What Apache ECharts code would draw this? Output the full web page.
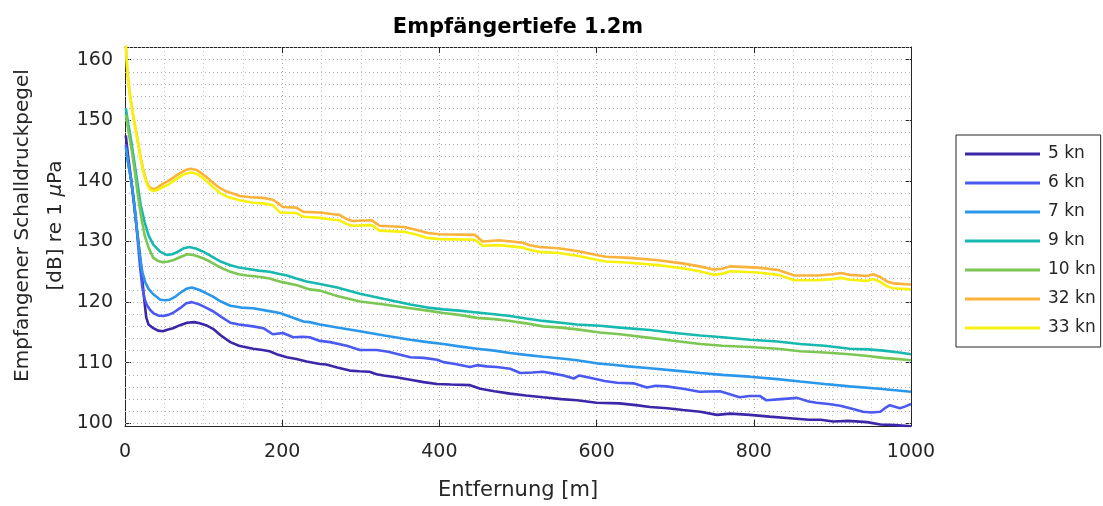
<!DOCTYPE html>
<html><head><meta charset="utf-8">
<script src="https://cdn.jsdelivr.net/npm/echarts@6/dist/echarts.min.js"></script>
<style>html,body{margin:0;padding:0;background:#fff}#c{width:1103px;height:506px}</style>
</head><body><div id="c"></div>
<script>
const titleText = 'Empfängertiefe 1.2m';
const xName = 'Entfernung [m]';
const seriesNames = ['5 kn', '6 kn', '7 kn', '9 kn', '10 kn', '32 kn', '33 kn'];
const seriesColors = ['#3E26A8', '#4A5AF0', '#2A97EA', '#17B8B0', '#7CC653', '#FDB23C', '#F6F20E'];
const yTicks = [100, 110, 120, 130, 140, 150, 160];
const yGrid = [100,102,104,106,108,110,112,114,116,118,120,122,124,126,128,130,132,134,136,138,140,142,144,146,148,150,152,154,156,158,160,162];

const d5 = [[1,147.5],[4,144],[8,140],[12,135.5],[16,131],[20,126.5],[24,121],[27,117.5],[30,116.3],[36,115.7],[42,115.3],[48,115.2],[55,115.5],[61,115.7],[70,116.2],[79,116.6],[88,116.7],[95,116.5],[103,116.2],[112,115.6],[122,114.5],[134,113.4],[145,112.8],[163,112.3],[175,112.1],[184,111.9],[195,111.3],[206,110.9],[218,110.6],[231,110.2],[248,109.8],[256,109.7],[270,109.2],[286,108.7],[298,108.6],[311,108.5],[320,108.1],[329,107.9],[345,107.6],[363,107.2],[380,106.8],[397,106.5],[415,106.4],[439,106.3],[452,105.7],[470,105.3],[490,104.9],[510,104.6],[532,104.3],[555,104.0],[575,103.8],[600,103.4],[629,103.3],[650,103.0],[668,102.7],[690,102.5],[710,102.2],[732,101.9],[753,101.4],[770,101.6],[795,101.4],[820,101.1],[850,100.8],[870,100.6],[885,100.6],[901,100.3],[920,100.4],[944,100.2],[961,99.8],[980,99.7],[1000,99.5]];
const d6 = [[1,146],[4,143],[8,140],[12,136],[16,130.5],[19,126],[22,122.5],[25,120.5],[28,119.5],[32,118.7],[36,118.2],[42,117.8],[48,117.7],[55,117.9],[61,118.2],[70,119],[78,119.8],[85,120.0],[95,119.6],[103,119.1],[112,118.5],[122,117.6],[134,116.6],[145,116.3],[163,116.0],[176,115.7],[188,114.7],[201,114.9],[214,114.2],[226,114.3],[235,114.2],[248,113.6],[261,113.4],[282,112.8],[299,112.1],[320,112.1],[335,111.8],[345,111.5],[363,110.9],[380,110.8],[397,110.5],[405,110.1],[420,109.8],[439,109.3],[448,109.6],[460,109.4],[473,109.3],[490,109.0],[503,108.3],[518,108.4],[532,108.5],[545,108.2],[558,107.9],[571,107.4],[578,107.9],[596,107.4],[610,107.0],[626,106.7],[647,106.6],[664,105.9],[675,106.2],[689,106.1],[710,105.7],[731,105.2],[757,105.3],[782,104.3],[795,104.5],[808,104.5],[816,103.8],[835,104.0],[855,104.2],[870,103.6],[880,103.4],[895,103.2],[910,102.9],[925,102.4],[939,101.9],[950,101.8],[961,101.9],[968,102.6],[973,103.0],[986,102.5],[993,102.8],[1000,103.2]];
const d7 = [[1,145.5],[4,143],[8,140],[12,136],[16,131],[19,127.5],[22,125],[26,123.2],[30,122.2],[36,121.3],[45,120.4],[52,120.3],[57,120.4],[64,120.9],[70,121.5],[78,122.2],[85,122.4],[95,122.0],[103,121.5],[112,120.9],[122,120.1],[134,119.4],[148,119.1],[163,119.0],[180,118.6],[197,118.2],[212,117.5],[227,116.8],[235,116.7],[248,116.3],[270,115.8],[299,115.2],[330,114.5],[363,113.8],[385,113.4],[405,113.1],[425,112.7],[448,112.3],[470,112.0],[490,111.6],[510,111.3],[532,111.0],[555,110.7],[575,110.4],[600,109.9],[617,109.7],[640,109.4],[668,109.1],[700,108.7],[732,108.3],[760,108.0],[795,107.7],[830,107.3],[859,106.9],[890,106.5],[922,106.1],[960,105.7],[1000,105.2]];
const d9 = [[1,152],[4,149.5],[8,146.5],[12,143],[16,139.5],[20,136],[25,133.2],[30,131],[36,129.5],[45,128.3],[53,127.8],[60,127.9],[67,128.3],[75,128.9],[82,129.1],[91,128.8],[100,128.3],[108,127.7],[120,126.8],[134,126.1],[145,125.7],[155,125.5],[170,125.2],[184,125.0],[195,124.7],[206,124.4],[218,123.9],[231,123.4],[248,123.0],[270,122.4],[299,121.4],[330,120.5],[363,119.6],[385,119.1],[405,118.8],[425,118.6],[448,118.3],[470,118.0],[490,117.7],[510,117.3],[532,116.9],[555,116.6],[575,116.3],[604,116.1],[630,115.8],[668,115.4],[700,114.9],[732,114.5],[760,114.2],[795,113.8],[830,113.5],[859,113.1],[890,112.8],[922,112.3],[945,112.2],[965,112.0],[985,111.7],[1000,111.4]];
const d10 = [[1,151],[4,148.5],[8,145.5],[12,142],[16,138],[20,134.5],[25,131],[30,129],[36,127.3],[42,126.8],[48,126.6],[55,126.7],[61,126.9],[70,127.4],[79,127.9],[86,127.8],[91,127.6],[100,127.2],[108,126.7],[120,125.8],[134,125.0],[145,124.6],[155,124.4],[170,124.2],[184,123.9],[200,123.3],[219,122.8],[235,122.1],[248,121.9],[270,121.0],[299,120.1],[330,119.6],[363,119.0],[385,118.6],[405,118.2],[425,117.9],[448,117.4],[470,117.2],[490,116.9],[510,116.5],[532,116.0],[555,115.8],[575,115.5],[604,115.0],[630,114.7],[668,114.1],[700,113.6],[732,113.1],[760,112.8],[795,112.6],[830,112.3],[859,111.9],[890,111.7],[922,111.4],[945,111.1],[965,110.8],[985,110.6],[1000,110.4]];
const d32 = [[1,162.5],[3,158],[6,154.5],[10,151],[15,147.5],[19,144.5],[23,142],[27,140],[31,139],[36,138.6],[41,138.9],[48,139.5],[55,140.0],[62,140.6],[70,141.3],[77,141.8],[84,142.0],[91,141.8],[98,141.2],[105,140.5],[112,139.7],[121,138.8],[130,138.2],[140,137.8],[146,137.5],[160,137.3],[176,137.2],[188,136.9],[195,136.3],[201,135.7],[218,135.6],[227,134.9],[248,134.8],[265,134.5],[273,134.4],[282,133.7],[289,133.4],[314,133.5],[324,132.6],[355,132.4],[369,132.0],[385,131.4],[400,131.2],[445,131.1],[455,130.0],[476,130.2],[492,130.0],[506,129.8],[515,129.4],[527,129.1],[552,128.9],[577,128.4],[603,127.7],[612,127.5],[643,127.3],[678,126.9],[709,126.4],[731,125.9],[749,125.4],[760,125.5],[770,125.9],[805,125.7],[831,125.3],[845,124.7],[851,124.4],[881,124.4],[900,124.6],[911,124.8],[922,124.5],[944,124.3],[952,124.6],[960,124.2],[970,123.4],[977,123.1],[1000,122.9]];
const d33 = [[1,162.5],[3,158],[6,154.3],[10,151],[15,147.5],[19,144.3],[23,141.7],[27,139.8],[31,138.7],[36,138.3],[41,138.5],[48,139.0],[55,139.4],[62,140.0],[70,140.7],[77,141.2],[84,141.4],[91,141.2],[98,140.6],[105,139.8],[112,139.0],[121,138.0],[130,137.4],[140,137.0],[146,136.8],[163,136.4],[176,136.3],[188,136.0],[197,134.8],[218,134.7],[227,134.1],[248,133.9],[265,133.6],[273,133.5],[282,132.9],[289,132.6],[314,132.7],[324,131.8],[355,131.6],[369,131.2],[385,130.6],[400,130.4],[445,130.3],[455,129.3],[476,129.4],[492,129.2],[506,129.0],[515,128.6],[527,128.3],[552,128.1],[577,127.6],[603,126.9],[612,126.7],[643,126.5],[678,126.1],[709,125.6],[731,125.1],[749,124.5],[760,124.7],[770,125.1],[805,124.9],[831,124.5],[845,123.9],[851,123.6],[881,123.6],[900,123.8],[911,124.0],[922,123.7],[944,123.5],[952,123.8],[960,123.4],[970,122.6],[977,122.3],[1000,122.1]];
const seriesData = [d5, d6, d7, d9, d10, d32, d33];

const FONT = 'DejaVu Sans, Liberation Sans, sans-serif';
const AX = '#262626';
const chart = echarts.init(document.getElementById('c'), null, {renderer: 'canvas'});

const series = seriesNames.map((n, i) => ({
  name: n, type: 'line', data: seriesData[i], showSymbol: false, symbol: 'none',
  lineStyle: {width: 2.6, color: seriesColors[i]}, itemStyle: {color: seriesColors[i]},
  z: 3, clip: true, animation: false
}));
series.push({
  name: '_grid', type: 'line', data: [], silent: true, animation: false,
  markLine: {
    silent: true, symbol: 'none', z: 1, animation: false,
    label: {show: false},
    lineStyle: {type: [1, 3], color: '#b0b0b0', width: 1},
    emphasis: {disabled: true},
    data: yGrid.map(v => ({yAxis: v}))
  }
});

chart.setOption({
  animation: false,
  backgroundColor: '#fff',
  title: {
    text: titleText, left: 518, top: 17, textAlign: 'center', padding: 0,
    textStyle: {fontSize: 21, fontWeight: 'bold', color: '#000', fontFamily: FONT}
  },
  legend: {
    data: seriesNames, orient: 'vertical', left: 956, top: 135,
    icon: 'rect', itemWidth: 75, itemHeight: 3, itemGap: 9,
    padding: [9, 5, 9, 9], borderColor: AX, borderWidth: 1, backgroundColor: '#fff',
    textStyle: {fontSize: 17, color: AX, fontFamily: FONT, lineHeight: 20, padding: [0, 0, 0, 3]},
    selectedMode: false
  },
  grid: {left: 125, right: 192, top: 47, bottom: 76, containLabel: false},
  xAxis: [{
    type: 'value', min: 0, max: 1000, interval: 200, position: 'bottom',
    name: xName, nameLocation: 'middle', nameGap: 54,
    nameTextStyle: {fontSize: 21, color: AX, fontFamily: FONT},
    axisLine: {show: true, onZero: false, lineStyle: {color: AX, width: 1}},
    axisTick: {show: true, inside: true, length: 6, lineStyle: {color: AX}},
    axisLabel: {fontSize: 19, color: AX, fontFamily: FONT, margin: 17, formatter: v => String(v)},
    splitLine: {show: true, lineStyle: {type: [1, 3], color: '#b0b0b0', width: 1}},
    minorTick: {show: false, splitNumber: 4},
    minorSplitLine: {show: true, lineStyle: {type: [1, 3], color: '#c4c4c4', width: 1}}
  }, {
    type: 'value', min: 0, max: 1000, interval: 200, position: 'top',
    axisLine: {show: true, onZero: false, lineStyle: {color: AX, width: 1}},
    axisTick: {show: true, inside: true, length: 6, lineStyle: {color: AX}},
    axisLabel: {show: false}, splitLine: {show: false}
  }],
  yAxis: [{
    type: 'value', min: 99.56, max: 162.1, position: 'left',
    name: '{a|Empfangener Schalldruckpegel}\n{a|[dB] re 1 }{b|μ}{a|Pa}',
    nameLocation: 'middle', nameGap: 52, nameRotate: 90,
    nameTextStyle: {
      color: AX, fontFamily: FONT, padding: [0, 0, 0, 22],
      rich: {
        a: {fontSize: 20, color: AX, fontFamily: FONT, lineHeight: 33},
        b: {fontSize: 20, color: AX, fontFamily: FONT, fontStyle: 'italic', lineHeight: 33}
      }
    },
    axisLine: {show: true, onZero: false, lineStyle: {color: AX, width: 1}},
    axisTick: {show: true, inside: true, length: 6, lineStyle: {color: AX}, customValues: yTicks},
    axisLabel: {fontSize: 19, color: AX, fontFamily: FONT, margin: 12, customValues: yTicks},
    splitLine: {show: false}
  }, {
    type: 'value', min: 99.56, max: 162.1, position: 'right',
    axisLine: {show: true, onZero: false, lineStyle: {color: AX, width: 1}},
    axisTick: {show: true, inside: true, length: 6, lineStyle: {color: AX}, customValues: yTicks},
    axisLabel: {show: false}, splitLine: {show: false}
  }],
  series: series
});
</script></body></html>
